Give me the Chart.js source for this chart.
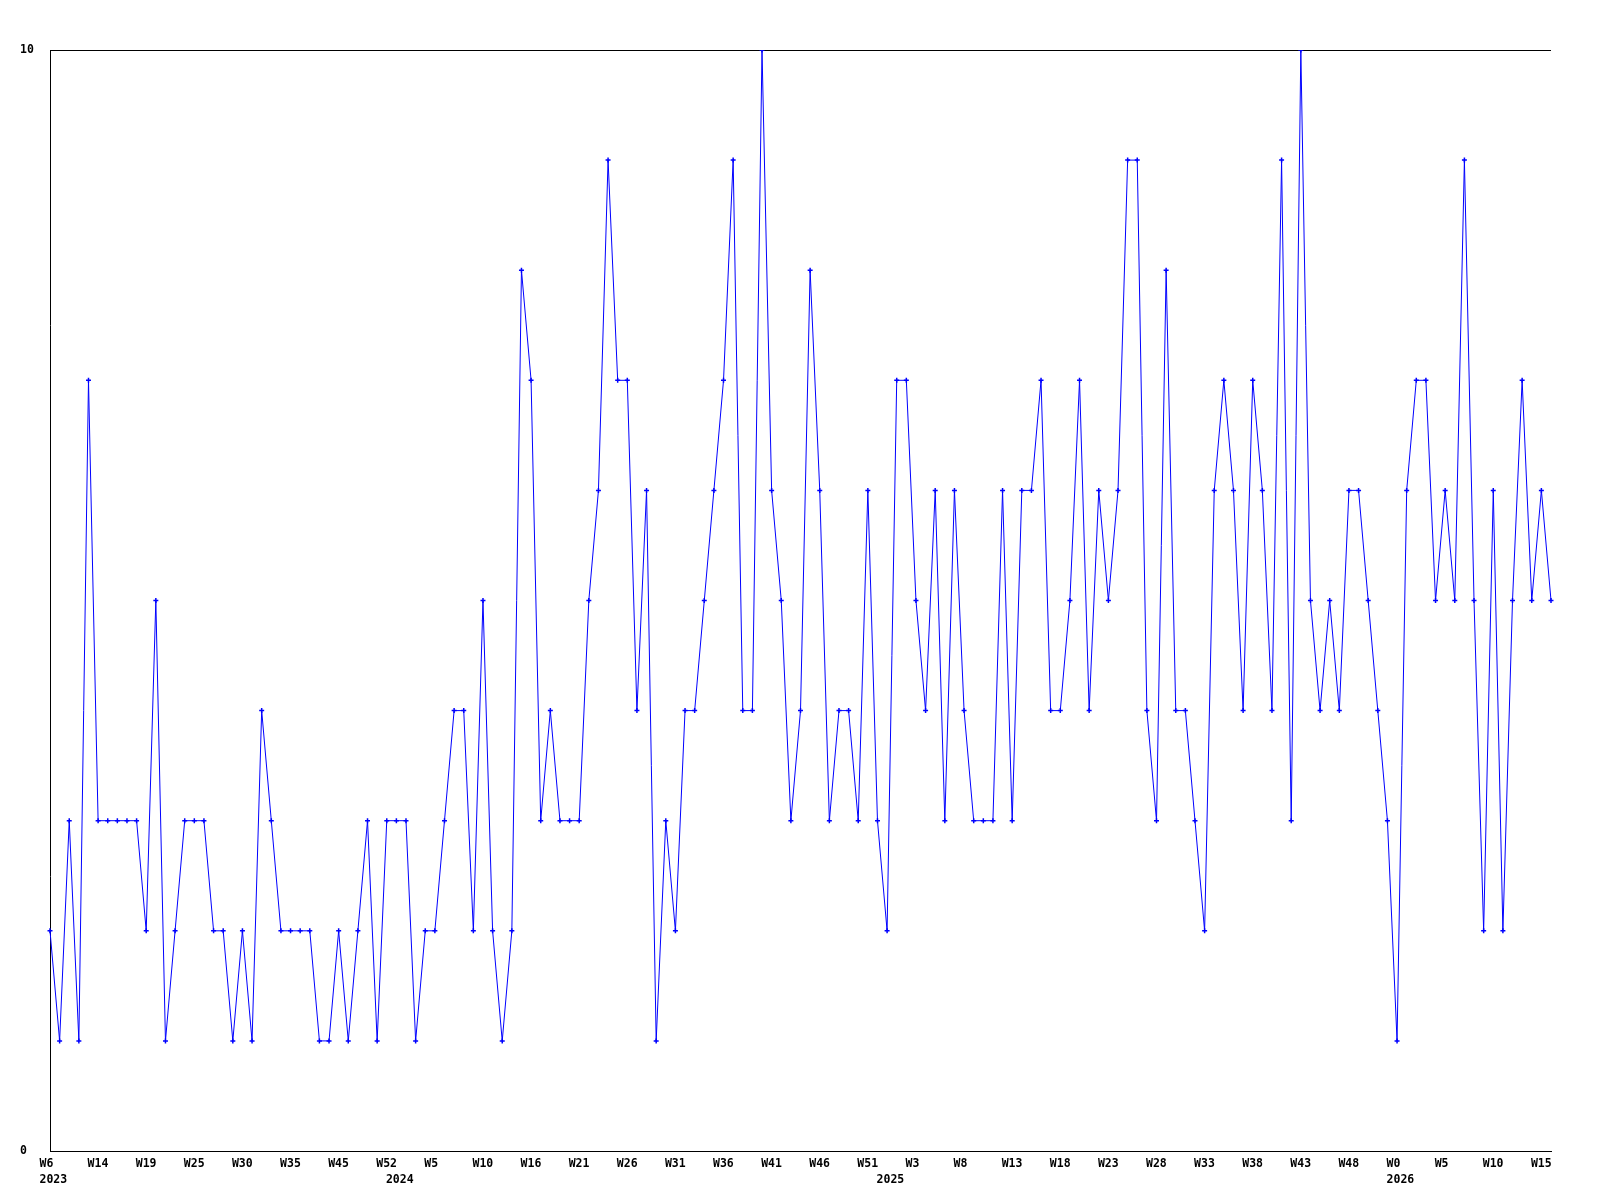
<!DOCTYPE html>
<html>
<head>
<meta charset="utf-8">
<script src="https://cdn.jsdelivr.net/npm/chart.js@4.4.1/dist/chart.umd.min.js"></script>
<style>
  html, body { margin: 0; padding: 0; background: #fff; }
  #wrap { width: 1600px; height: 1200px; }
</style>
</head>
<body>
<div id="wrap"><canvas id="chart" width="1600" height="1200"></canvas></div>
<script>
// weekly values, one per point (2023 W6 .. 2026 W16)
const values = [
  2,1,3,1,7,3,3,3,3,3,
  2,5,1,2,3,3,3,2,2,1,
  2,1,4,3,2,2,2,2,1,1,
  2,1,2,3,1,3,3,3,1,2,
  2,3,4,4,2,5,2,1,2,8,
  7,3,4,3,3,3,5,6,9,7,
  7,4,6,1,3,2,4,4,5,6,
  7,9,4,4,10,6,5,3,4,8,
  6,3,4,4,3,6,3,2,7,7,
  5,4,6,3,6,4,3,3,3,6,
  3,6,6,7,4,4,5,7,4,6,
  5,6,9,9,4,3,8,4,4,3,
  2,6,7,6,4,7,6,4,9,3,
  10,5,4,5,4,6,6,5,4,3,
  1,6,7,7,5,6,5,9,5,2,
  6,2,5,7,5,6,5
];

// week labels shown on every 5th point
const labelEvery = 5;
const weekTicks = [
  'W6','W14','W19','W25','W30','W35','W45','W52',
  'W5','W10','W16','W21','W26','W31','W36','W41','W46','W51',
  'W3','W8','W13','W18','W23','W28','W33','W38','W43','W48',
  'W0','W5','W10','W15'
];

// year labels and the point where each year starts
const years = ['2023', '2024', '2025', '2026'];
const yearStarts = [0, 36, 87, 140];

const yTicks = [0, 10];

const categories = values.map((v, i) => i);

const font = { family: '"DejaVu Sans Mono", monospace', size: 11.5, weight: 'bold', lineHeight: 1.4 };

new Chart(document.getElementById('chart'), {
  type: 'line',
  data: {
    labels: categories,
    datasets: [{
      data: values,
      borderColor: '#0000ff',
      backgroundColor: '#0000ff',
      borderWidth: 1,
      tension: 0,
      pointStyle: 'cross',
      pointRadius: 2.5,
      pointBorderWidth: 1.5,
      pointBorderColor: '#0000ff'
    }]
  },
  options: {
    responsive: false,
    animation: false,
    layout: { padding: { top: 50, left: 20, right: 49, bottom: 0 } },
    plugins: { legend: { display: false }, tooltip: { enabled: false } },
    scales: {
      x: {
        type: 'category',
        offset: false,
        grid: { display: false, drawTicks: false },
        border: { display: true, color: '#000', width: 1 },
        afterFit: s => { s.height = 49; },
        ticks: {
          autoSkip: false,
          maxRotation: 0,
          minRotation: 0,
          align: 'start',
          labelOffset: -10.5,
          padding: 5,
          color: '#000',
          font: font,
          callback: (v, i) => {
            const week = i % labelEvery === 0 ? (weekTicks[i / labelEvery] || '') : '';
            const yi = yearStarts.indexOf(i);
            const year = yi >= 0 ? years[yi] : '';
            if (!week && !year) return null;
            return year ? [week, year] : week;
          }
        }
      },
      y: {
        min: yTicks[0],
        max: yTicks[yTicks.length - 1],
        afterFit: s => { s.width = 30; },
        afterBuildTicks: s => { s.ticks = yTicks.map(v => ({ value: v })); },
        grid: { display: true, color: '#000', lineWidth: 1, drawTicks: false },
        border: { display: true, color: '#000', width: 1 },
        ticks: {
          crossAlign: 'far',
          color: '#000',
          font: font
        }
      }
    }
  }
});
</script>
</body>
</html>
